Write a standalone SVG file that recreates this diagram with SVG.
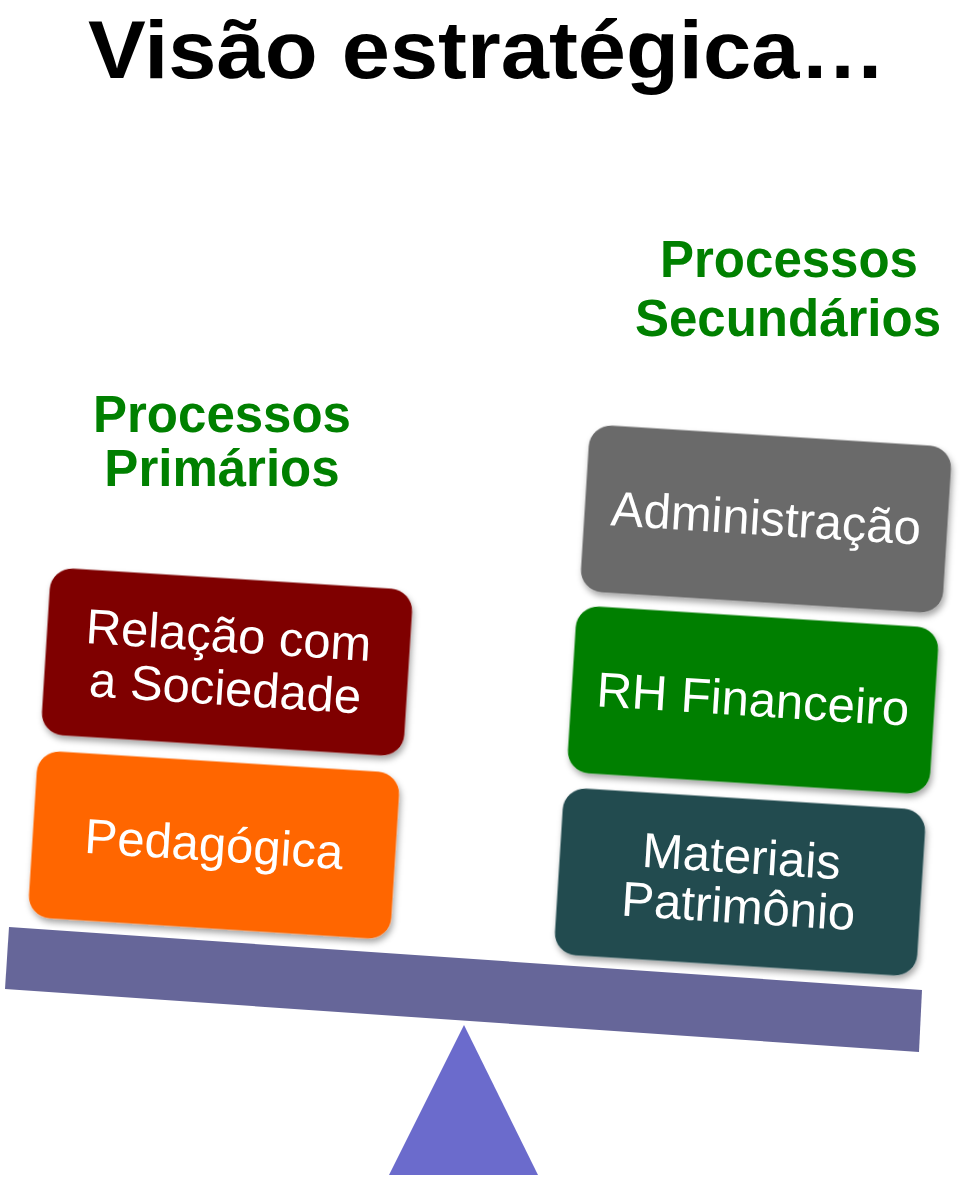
<svg xmlns="http://www.w3.org/2000/svg" width="960" height="1181" viewBox="0 0 960 1181">
  <defs>
    <filter id="shadow" x="-10%" y="-15%" width="125%" height="140%">
      <feDropShadow dx="2" dy="4" stdDeviation="3" flood-color="#000" flood-opacity="0.35"/>
    </filter>
    <style>
      .title { font-family: "Liberation Sans", Arial, sans-serif; font-weight: bold; font-size: 82px; fill: #000; }
      .head { font-family: "Liberation Sans", Arial, sans-serif; font-weight: bold; font-size: 51px; fill: #008000; text-anchor: middle; }
      .box { filter: url(#shadow); }
      .lbl { font-family: "Liberation Sans", Arial, sans-serif; font-size: 49px; fill: #ffffff; text-anchor: middle; }
    </style>
  </defs>
  <rect width="960" height="1181" fill="#ffffff"/>

  <text class="title" x="88" y="78" textLength="798" lengthAdjust="spacingAndGlyphs">Visão estratégica…</text>

  <g id="heading-primarios">
    <text class="head" x="222" y="432">Processos</text>
    <text class="head" x="222" y="486">Primários</text>
  </g>
  <g id="heading-secundarios">
    <text class="head" x="789" y="277">Processos</text>
    <text class="head" x="788" y="336">Secundários</text>
  </g>

  <g id="connectors">
    <polygon id="beam" points="9,927 922,990 919,1052 5,989" fill="#666699"/>
    <polygon id="fulcrum" points="464,1025 389,1175 538,1175" fill="#6B6BCC"/>
  </g>

  <g id="node-relacao" transform="translate(227,662) rotate(3.6)">
    <rect class="box" x="-181.5" y="-83.5" width="363" height="167" rx="22" fill="#7F0000"/>
    <text class="lbl" x="0" y="-10">Relação com</text>
    <text class="lbl" x="0" y="43">a Sociedade</text>
  </g>
  <g id="node-pedagogica" transform="translate(214,845) rotate(3.6)">
    <rect class="box" x="-181.5" y="-83.5" width="363" height="167" rx="22" fill="#FF6600"/>
    <text class="lbl" x="0" y="16">Pedagógica</text>
  </g>
  <g id="node-administracao" transform="translate(766,519) rotate(3.6)">
    <rect class="box" x="-181.5" y="-83.5" width="363" height="167" rx="22" fill="#6B6B6B"/>
    <text class="lbl" x="0" y="16">Administração</text>
  </g>
  <g id="node-rh" transform="translate(753,700) rotate(3.6)">
    <rect class="box" x="-181.5" y="-83.5" width="363" height="167" rx="22" fill="#007F00"/>
    <text class="lbl" x="0" y="16">RH Financeiro</text>
  </g>
  <g id="node-materiais" transform="translate(740,882) rotate(3.6)">
    <rect class="box" x="-181.5" y="-83.5" width="363" height="167" rx="22" fill="#244B50"/>
    <text class="lbl" x="0" y="-9">Materiais</text>
    <text class="lbl" x="0" y="41">Patrimônio</text>
  </g>
</svg>
